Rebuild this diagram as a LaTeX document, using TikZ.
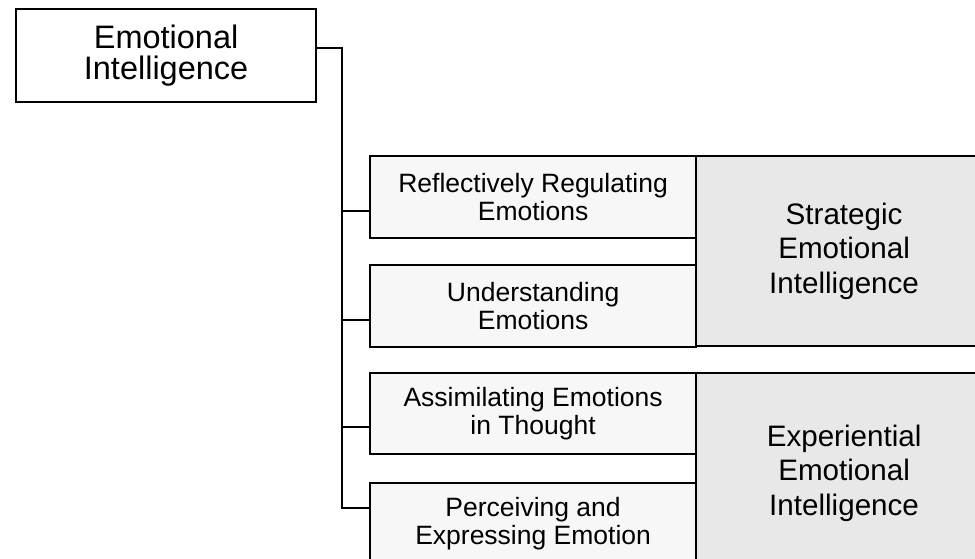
\documentclass[tikz,border=0pt]{standalone}
\usepackage{fontspec}
\setmainfont{Liberation Sans}
\definecolor{lightbox}{HTML}{F7F7F7}
\definecolor{groupbox}{HTML}{E8E8E8}
\begin{document}
\begin{tikzpicture}[x=1pt,y=-1pt,
  linew/.style={line width=2.2pt, draw=black},
  topbox/.style={linew, fill=white, anchor=north west, minimum width=300pt, minimum height=93pt, align=center, inner sep=0pt, font=\fontsize{32.5}{30.5}\selectfont},
  abilitybox/.style={linew, fill=lightbox, anchor=north west, minimum width=326pt, minimum height=82pt, align=center, inner sep=0pt, font=\fontsize{26.5}{28}\selectfont},
  groupnode/.style={linew, fill=groupbox, anchor=north west, minimum width=296pt, minimum height=190pt, align=center, inner sep=0pt, font=\fontsize{29.6}{34.5}\selectfont},
  conn/.style={line width=2.2pt, draw=black}
]
\useasboundingbox (0,0) rectangle (975,558);
\clip (0,0) rectangle (975,558);
\fill[white] (0,0) rectangle (975,558);

\node[groupnode] (strat) at (695,155) {Strategic\\Emotional\\Intelligence};
\node[groupnode, minimum height=200pt] (exper) at (695,372) {Experiential\\Emotional\\Intelligence};

\node[topbox] (ei) at (15,8) {Emotional\\Intelligence};

\node[abilitybox] (b1) at (369,155) {Reflectively Regulating\\Emotions};
\node[abilitybox] (b2) at (369,264) {Understanding\\Emotions};
\node[abilitybox, minimum height=81pt] (b3) at (369,372) {Assimilating Emotions\\in Thought};
\node[abilitybox] (b4) at (369,482) {Perceiving and\\Expressing Emotion};

\coordinate (trunk) at (342,48);
\coordinate (p1) at ([yshift=-14pt]b1.west);
\coordinate (p2) at ([yshift=-13.5pt]b2.west);
\coordinate (p3) at ([yshift=-13.5pt]b3.west);
\coordinate (p4) at ([yshift=16pt]b4.west);

\draw[conn] (ei.east |- trunk) -- (trunk) -- (trunk |- p4) -- (p4);
\draw[conn] (trunk |- p1) -- (p1);
\draw[conn] (trunk |- p2) -- (p2);
\draw[conn] (trunk |- p3) -- (p3);
\end{tikzpicture}
\end{document}
